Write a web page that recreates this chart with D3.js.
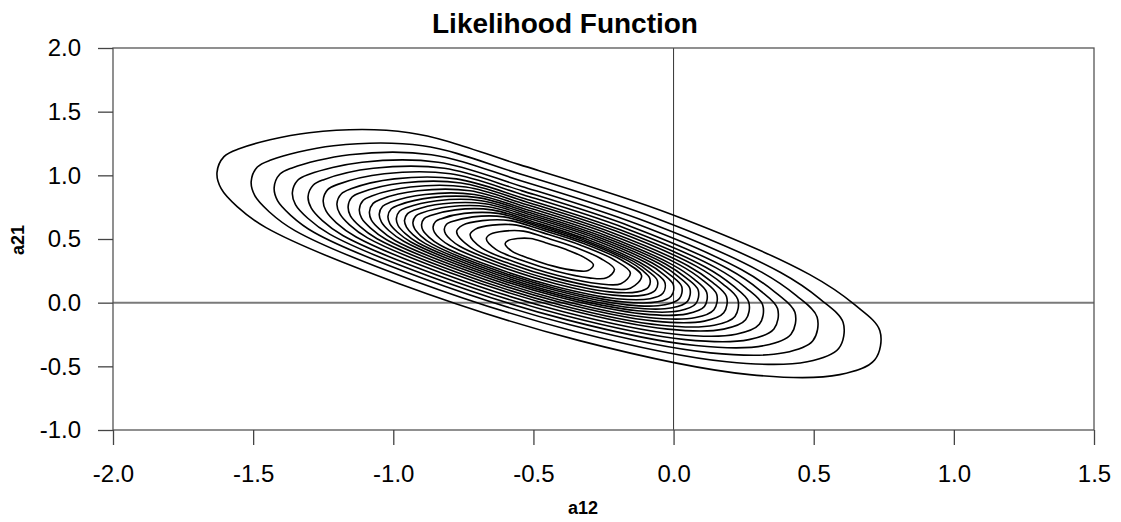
<!DOCTYPE html>
<html>
<head>
<meta charset="utf-8">
<script src="https://cdn.jsdelivr.net/npm/d3@7"></script>
<style>
  body { margin: 0; background: #fff; }
  svg { display: block; font-family: "Liberation Sans", Arial, sans-serif; }
</style>
</head>
<body>
<svg id="chart" width="1121" height="522"></svg>
<script>
const xTicks = [-2.0, -1.5, -1.0, -0.5, 0.0, 0.5, 1.0, 1.5];
const yTicks = [-1.0, -0.5, 0.0, 0.5, 1.0, 1.5, 2.0];

// traced contour lines, outermost first, points as [a12, a21]
const contourLines = [
  [[-1.629,1.021],[-1.604,1.147],[-1.550,1.209],[-1.300,1.335],[-0.943,1.335],[-0.550,1.084],[-0.004,0.691],[0.486,0.220],[0.646,-0.016],[0.736,-0.220],[0.718,-0.448],[0.593,-0.565],[0.271,-0.565],[-0.336,-0.298],[-0.979,0.149],[-1.454,0.589],[-1.557,0.754],[-1.614,0.895]],
  [[-1.507,0.952],[-1.485,1.065],[-1.437,1.120],[-1.213,1.232],[-0.895,1.232],[-0.544,1.008],[-0.056,0.657],[0.382,0.237],[0.524,0.026],[0.605,-0.156],[0.589,-0.360],[0.477,-0.464],[0.190,-0.464],[-0.352,-0.226],[-0.927,0.173],[-1.351,0.566],[-1.443,0.714],[-1.494,0.840]],
  [[-1.425,0.904],[-1.405,1.008],[-1.361,1.058],[-1.156,1.162],[-0.864,1.162],[-0.542,0.956],[-0.094,0.634],[0.307,0.248],[0.438,0.055],[0.512,-0.112],[0.497,-0.299],[0.394,-0.394],[0.131,-0.394],[-0.366,-0.176],[-0.893,0.190],[-1.282,0.551],[-1.366,0.686],[-1.413,0.801]],
  [[-1.360,0.865],[-1.341,0.961],[-1.300,1.008],[-1.111,1.103],[-0.840,1.103],[-0.542,0.913],[-0.128,0.615],[0.243,0.258],[0.364,0.079],[0.433,-0.076],[0.419,-0.248],[0.324,-0.337],[0.080,-0.337],[-0.380,-0.135],[-0.867,0.204],[-1.227,0.538],[-1.305,0.663],[-1.349,0.770]],
  [[-1.304,0.833],[-1.286,0.922],[-1.248,0.966],[-1.071,1.055],[-0.818,1.055],[-0.540,0.878],[-0.153,0.599],[0.194,0.266],[0.307,0.099],[0.371,-0.046],[0.358,-0.207],[0.269,-0.290],[0.042,-0.290],[-0.388,-0.101],[-0.843,0.216],[-1.180,0.527],[-1.253,0.644],[-1.293,0.744]],
  [[-1.250,0.804],[-1.234,0.888],[-1.198,0.929],[-1.032,1.012],[-0.796,1.012],[-0.535,0.846],[-0.173,0.585],[0.152,0.273],[0.258,0.116],[0.318,-0.019],[0.306,-0.170],[0.223,-0.248],[0.009,-0.248],[-0.393,-0.071],[-0.819,0.226],[-1.134,0.518],[-1.203,0.627],[-1.240,0.720]],
  [[-1.201,0.777],[-1.185,0.855],[-1.151,0.894],[-0.996,0.972],[-0.775,0.972],[-0.530,0.816],[-0.191,0.572],[0.113,0.280],[0.212,0.133],[0.268,0.006],[0.257,-0.135],[0.179,-0.208],[-0.021,-0.208],[-0.398,-0.042],[-0.797,0.235],[-1.092,0.509],[-1.156,0.611],[-1.191,0.699]],
  [[-1.161,0.756],[-1.147,0.830],[-1.115,0.866],[-0.968,0.940],[-0.758,0.940],[-0.527,0.793],[-0.206,0.562],[0.082,0.285],[0.176,0.146],[0.229,0.026],[0.219,-0.108],[0.145,-0.177],[-0.044,-0.177],[-0.401,-0.020],[-0.779,0.243],[-1.058,0.502],[-1.119,0.599],[-1.153,0.682]],
  [[-1.121,0.734],[-1.107,0.804],[-1.077,0.838],[-0.939,0.908],[-0.741,0.908],[-0.523,0.769],[-0.221,0.551],[0.051,0.290],[0.139,0.159],[0.189,0.046],[0.179,-0.080],[0.110,-0.145],[-0.068,-0.145],[-0.405,0.003],[-0.761,0.251],[-1.024,0.494],[-1.081,0.586],[-1.113,0.664]],
  [[-1.085,0.714],[-1.072,0.780],[-1.044,0.813],[-0.913,0.879],[-0.726,0.879],[-0.520,0.747],[-0.234,0.542],[0.023,0.295],[0.107,0.171],[0.154,0.064],[0.144,-0.055],[0.079,-0.117],[-0.090,-0.117],[-0.408,0.023],[-0.745,0.258],[-0.994,0.488],[-1.048,0.575],[-1.078,0.648]],
  [[-1.050,0.695],[-1.038,0.757],[-1.011,0.788],[-0.887,0.850],[-0.711,0.850],[-0.517,0.726],[-0.247,0.532],[-0.005,0.299],[0.074,0.183],[0.118,0.082],[0.110,-0.031],[0.048,-0.088],[-0.111,-0.088],[-0.411,0.044],[-0.729,0.264],[-0.963,0.482],[-1.014,0.563],[-1.042,0.633]],
  [[-1.019,0.678],[-1.007,0.737],[-0.982,0.766],[-0.865,0.825],[-0.698,0.825],[-0.514,0.708],[-0.259,0.524],[-0.029,0.304],[0.046,0.193],[0.088,0.098],[0.079,-0.009],[0.021,-0.064],[-0.130,-0.064],[-0.414,0.061],[-0.715,0.270],[-0.937,0.476],[-0.985,0.553],[-1.012,0.619]],
  [[-0.989,0.662],[-0.978,0.718],[-0.954,0.746],[-0.844,0.801],[-0.686,0.801],[-0.511,0.690],[-0.270,0.516],[-0.052,0.307],[0.018,0.203],[0.058,0.113],[0.050,0.012],[-0.005,-0.040],[-0.148,-0.040],[-0.417,0.078],[-0.701,0.276],[-0.912,0.471],[-0.958,0.544],[-0.983,0.606]],
  [[-0.960,0.646],[-0.949,0.699],[-0.927,0.725],[-0.822,0.777],[-0.673,0.777],[-0.509,0.673],[-0.280,0.508],[-0.076,0.311],[-0.009,0.213],[0.029,0.127],[0.021,0.032],[-0.031,-0.017],[-0.166,-0.017],[-0.419,0.095],[-0.688,0.282],[-0.887,0.466],[-0.930,0.535],[-0.953,0.594]],
  [[-0.930,0.630],[-0.920,0.680],[-0.899,0.704],[-0.801,0.753],[-0.661,0.753],[-0.506,0.655],[-0.291,0.500],[-0.099,0.315],[-0.036,0.223],[-0.001,0.142],[-0.008,0.053],[-0.057,0.007],[-0.183,0.007],[-0.422,0.112],[-0.675,0.287],[-0.861,0.460],[-0.902,0.525],[-0.924,0.581]],
  [[-0.899,0.613],[-0.890,0.660],[-0.870,0.682],[-0.779,0.729],[-0.648,0.729],[-0.503,0.636],[-0.303,0.492],[-0.123,0.319],[-0.064,0.233],[-0.031,0.158],[-0.038,0.074],[-0.084,0.031],[-0.202,0.031],[-0.425,0.129],[-0.661,0.293],[-0.835,0.455],[-0.873,0.515],[-0.894,0.567]],
  [[-0.858,0.595],[-0.849,0.637],[-0.831,0.658],[-0.747,0.701],[-0.626,0.701],[-0.493,0.616],[-0.309,0.483],[-0.143,0.324],[-0.089,0.244],[-0.058,0.175],[-0.065,0.098],[-0.107,0.059],[-0.216,0.059],[-0.421,0.149],[-0.638,0.300],[-0.799,0.449],[-0.834,0.504],[-0.853,0.552]],
  [[-0.818,0.577],[-0.810,0.616],[-0.793,0.635],[-0.716,0.674],[-0.605,0.674],[-0.483,0.596],[-0.314,0.474],[-0.162,0.328],[-0.112,0.255],[-0.085,0.192],[-0.090,0.121],[-0.129,0.085],[-0.229,0.085],[-0.417,0.168],[-0.616,0.306],[-0.763,0.443],[-0.795,0.494],[-0.813,0.538]],
  [[-0.774,0.557],[-0.752,0.609],[-0.682,0.644],[-0.583,0.644],[-0.473,0.574],[-0.321,0.465],[-0.184,0.333],[-0.114,0.210],[-0.154,0.114],[-0.244,0.114],[-0.413,0.189],[-0.593,0.313],[-0.725,0.436]],
  [[-0.726,0.533],[-0.707,0.578],[-0.646,0.609],[-0.560,0.609],[-0.465,0.548],[-0.333,0.453],[-0.214,0.339],[-0.154,0.233],[-0.188,0.149],[-0.266,0.149],[-0.413,0.214],[-0.569,0.322],[-0.684,0.428]],
  [[-0.668,0.501],[-0.653,0.538],[-0.604,0.562],[-0.536,0.562],[-0.460,0.513],[-0.354,0.438],[-0.260,0.347],[-0.211,0.262],[-0.239,0.195],[-0.301,0.195],[-0.418,0.247],[-0.542,0.333],[-0.634,0.418]],
  [[-0.601,0.463],[-0.590,0.488],[-0.557,0.504],[-0.510,0.504],[-0.457,0.471],[-0.385,0.419],[-0.319,0.356],[-0.286,0.298],[-0.305,0.252],[-0.348,0.252],[-0.429,0.287],[-0.514,0.347],[-0.577,0.405]]
];

const svg = d3.select('#chart');
const plot = { left: 113, right: 1094, top: 48, bottom: 430 };

const x = d3.scaleLinear().domain([-2, 1.5]).range([plot.left, plot.right]);
const y = d3.scaleLinear().domain([-1, 2]).range([plot.bottom, plot.top]);

// zero lines
svg.append('line')
    .attr('x1', plot.left).attr('x2', plot.right)
    .attr('y1', y(0)).attr('y2', y(0))
    .attr('stroke', '#7a7a7a').attr('stroke-width', 2);
svg.append('line')
    .attr('x1', x(0)).attr('x2', x(0))
    .attr('y1', plot.top).attr('y2', plot.bottom)
    .attr('stroke', '#333').attr('stroke-width', 1);

const line = d3.line()
    .x(d => x(d[0]))
    .y(d => y(d[1]))
    .curve(d3.curveCatmullRomClosed.alpha(0.5));

svg.append('g')
    .selectAll('path')
    .data(contourLines)
    .enter().append('path')
    .attr('d', line)
    .attr('fill', 'none')
    .attr('stroke', '#000')
    .attr('stroke-width', 1.6);

// frame
svg.append('rect')
    .attr('x', plot.left).attr('y', plot.top)
    .attr('width', plot.right - plot.left)
    .attr('height', plot.bottom - plot.top)
    .attr('fill', 'none')
    .attr('stroke', '#555')
    .attr('stroke-width', 1.3);

const fmt = d => d.toFixed(1);

const xAxis = svg.append('g')
    .attr('transform', `translate(0,${plot.bottom})`)
    .call(d3.axisBottom(x).tickValues(xTicks).tickFormat(fmt).tickSize(15).tickPadding(20));
const yAxis = svg.append('g')
    .attr('transform', `translate(${plot.left},0)`)
    .call(d3.axisLeft(y).tickValues(yTicks).tickFormat(fmt).tickSize(15).tickPadding(17));

[xAxis, yAxis].forEach(g => {
    g.select('.domain').remove();
    g.selectAll('.tick line').attr('stroke', '#444').attr('stroke-width', 1.3);
    g.selectAll('.tick text')
        .attr('fill', '#000')
        .style('font-size', '24px')
        .style('font-family', '"Liberation Sans", Arial, sans-serif');
});

svg.append('text')
    .attr('x', 565).attr('y', 33)
    .attr('text-anchor', 'middle')
    .style('font-size', '28px')
    .style('font-weight', 'bold')
    .text('Likelihood Function');

svg.append('text')
    .attr('x', 583).attr('y', 514)
    .attr('text-anchor', 'middle')
    .style('font-size', '18px')
    .style('font-weight', 'bold')
    .text('a12');

svg.append('text')
    .attr('transform', 'translate(24,240) rotate(-90)')
    .attr('text-anchor', 'middle')
    .style('font-size', '18px')
    .style('font-weight', 'bold')
    .text('a21');
</script>
</body>
</html>
